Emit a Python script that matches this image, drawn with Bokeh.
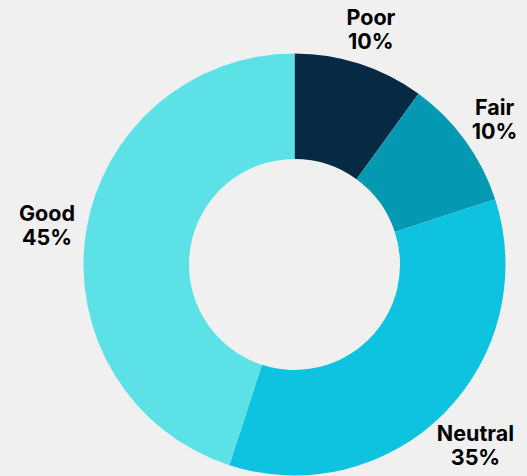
import math
from bokeh.plotting import figure
from bokeh.models import Range1d, ColumnDataSource
from bokeh.core.properties import value
from bokeh.embed import file_html
from bokeh.resources import INLINE

# ---- data ----
categories = ["Poor", "Fair", "Neutral", "Good"]
percentages = [10, 10, 35, 45]
pct_labels = ["10%", "10%", "35%", "45%"]
colors = ["#062a43", "#0399b3", "#0ec3e0", "#5ce1e6"]

BG = "#f0f0f0"
W, H = 527, 476
CX, CY = 294, H - 264          # centre in data (pixel) units
R_OUT, R_IN = 211, 105.5

# approximate glyph widths (px) of the bold label font, used to place label boxes
CHAR_W = {"P": 13.5, "o": 13, "r": 9, "F": 12, "a": 12, "i": 5.5, "N": 16.5,
          "e": 12.5, "u": 12, "t": 8, "l": 5.5, "G": 17, "d": 13.5}


def text_w(s):
    return sum(CHAR_W.get(c, 12) for c in s)


# angles: start at 12 o'clock, clockwise
total = sum(percentages)
starts, ends, mids = [], [], []
a = math.pi / 2
for v in percentages:
    span = 2 * math.pi * v / total
    starts.append(a)
    ends.append(a - span)
    mids.append(a - span / 2)
    a -= span

src = ColumnDataSource(dict(start=starts, end=ends, color=colors, cat=categories))

p = figure(width=W, height=H, output_backend="svg", toolbar_location=None,
           x_range=Range1d(0, W), y_range=Range1d(0, H),
           x_axis_location=None, y_axis_location=None, min_border=0)
p.grid.visible = False
p.outline_line_color = None
p.background_fill_color = BG
p.border_fill_color = BG

p.annular_wedge(x=CX, y=CY, inner_radius=R_IN, outer_radius=R_OUT,
                start_angle="start", end_angle="end", direction="clock",
                color="color", line_color=None, source=src)

# labels: text box placed just outside radius R_LAB along each slice's mid angle
R_LAB = 222
HH = 24
lx1, ly1, lx2, ly2 = [], [], [], []
for cat, m in zip(categories, mids):
    hw = max(text_w(cat), 41) / 2
    c, s = math.cos(m), math.sin(m)
    d = min(hw / abs(c) if abs(c) > 1e-9 else 1e9, HH / abs(s) if abs(s) > 1e-9 else 1e9)
    px = CX + (R_LAB + d) * c
    py = CY + (R_LAB + d) * s
    lx1.append(px); ly1.append(py + 12)
    lx2.append(px); ly2.append(py - 12)

lsrc = ColumnDataSource(dict(x1=lx1, y1=ly1, x2=lx2, y2=ly2, t1=categories, t2=pct_labels))
common = dict(text_align="center", text_baseline="middle", text_color="#000000",
              text_font=value("Inter"), text_font_style="bold", text_font_size="21.5px",
              source=lsrc)
p.text(x="x1", y="y1", text="t1", **common)
p.text(x="x2", y="y2", text="t2", **common)

html = file_html(p, INLINE)
html = html.replace("<head>", "<head><style>html,body{background:%s;margin:0;overflow:hidden}</style>" % BG, 1)
open("out.html", "w").write(html)
